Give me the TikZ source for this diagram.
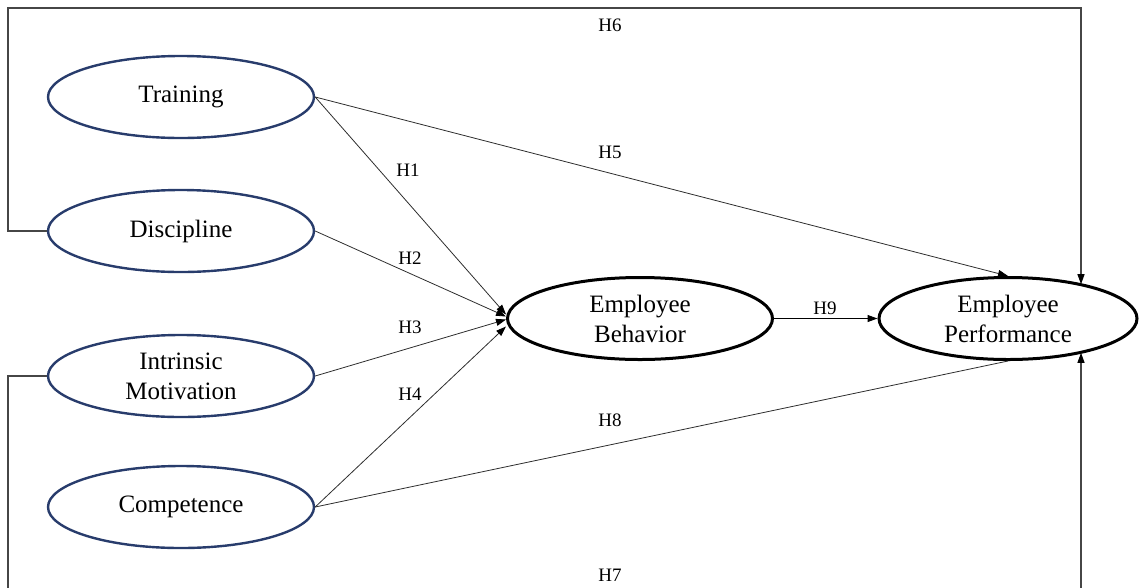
\documentclass[tikz,border=0pt]{standalone}
\usepackage{fontspec}
\setmainfont{Liberation Serif}
\usetikzlibrary{shapes.geometric,arrows.meta}
\definecolor{navy}{RGB}{40,60,108}
\definecolor{lineg}{RGB}{45,45,45}
\definecolor{frameg}{RGB}{70,70,70}
\tikzset{
  latent/.style={ellipse, draw=navy, line width=2.4pt, minimum width=266pt, minimum height=82pt, inner sep=0pt, align=center, font=\fontsize{25}{30}\selectfont},
  outcome/.style={ellipse, draw=black, line width=3pt, minimum width=265pt, minimum height=82pt, inner sep=0pt, align=center, font=\fontsize{25}{30}\selectfont},
  link/.style={draw=lineg, line width=0.8pt},
  arr/.style={link, -{Triangle[length=10pt,width=7pt,fill=black,color=black]}},
  framelink/.style={draw=frameg, line width=1.1pt},
  farr/.style={framelink, -{Triangle[length=10pt,width=7pt,fill=black,color=black]}},
  hlab/.style={font=\fontsize{19}{22}\selectfont, inner sep=0pt}
}
\begin{document}
\begin{tikzpicture}[x=1pt,y=-1pt]
\useasboundingbox (0,0) rectangle (1139,587);
\clip (0,0) rectangle (1139,587);
\node[latent] (tr) at (181,97) {Training};
\node[latent] (di) at (181,231) {Discipline};
\node[latent] (im) at (181,376) {Intrinsic\\Motivation};
\node[latent] (co) at (181,507) {Competence};
\node[outcome] (eb) at (640,318.5) {Employee\\Behavior};
\node[outcome, minimum width=258pt] (ep) at (1008,318.5) {Employee\\Performance};
% coordinates for the frame paths
\coordinate (l6) at (8,231);
\coordinate (t6l) at (8,8);
\coordinate (t6r) at (1081,8);
\coordinate (l7) at (8,376);
\coordinate (b7l) at (8,600);
\coordinate (b7r) at (1081,600);
% H1-H4
\draw[arr] (tr.east) -- ([yshift=4pt]eb.west);
\draw[arr] (di.east) -- ([yshift=2pt]eb.west);
\draw[arr] (im.east) -- ([yshift=-1pt]eb.west);
\draw[arr] (co.east) -- ([yshift=-8pt]eb.west);
% H5
\draw[arr] (tr.east) -- (ep.north);
% H8
\draw[link] (co.east) -- (ep.south);
% H9
\draw[arr, draw=black, line width=1pt] (eb.east) -- (ep.west);
% H6
\draw[farr] (di.west) -- (l6) -- (t6l) -- (t6r) -- (ep.24 -| t6r);
% H7
\draw[farr] (im.west) -- (l7) -- (b7l) -- (b7r) -- (ep.-24 -| b7r);
% labels
\node[hlab] (h1) at (408,170) {H1};
\node[hlab] (h2) at (410,258) {H2};
\node[hlab] (h3) at (410,327) {H3};
\node[hlab] (h4) at (410,394) {H4};
\node[hlab] (h5) at (610,152) {H5};
\node[hlab] (h6) at (610,25) {H6};
\node[hlab] (h7) at (610,575) {H7};
\node[hlab] (h8) at (610,420) {H8};
\node[hlab] (h9) at (825,308) {H9};
\end{tikzpicture}
\end{document}
